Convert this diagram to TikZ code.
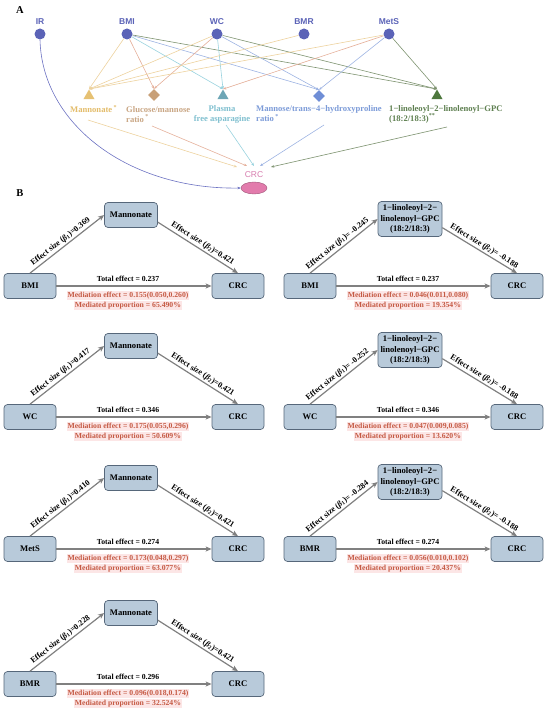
\documentclass[tikz,border=0pt]{standalone}
\usepackage{fontspec}
\setmainfont{Liberation Serif}
\setsansfont{Liberation Sans}
\usetikzlibrary{shapes.geometric,arrows.meta}
\definecolor{expocol}{HTML}{5B63B7}
\definecolor{mA}{HTML}{E6C173}
\definecolor{mAt}{HTML}{E3BC6A}
\definecolor{mAe}{HTML}{EDD29E}
\definecolor{mB}{HTML}{C8A078}
\definecolor{mBt}{HTML}{C9A684}
\definecolor{mBe}{HTML}{E4AE98}
\definecolor{mC}{HTML}{6DA6B6}
\definecolor{mCt}{HTML}{7FBFCF}
\definecolor{mCe}{HTML}{98D2DE}
\definecolor{mD}{HTML}{6F8ED6}
\definecolor{mDt}{HTML}{7C9BD8}
\definecolor{mDe}{HTML}{9DB3E2}
\definecolor{mE}{HTML}{4D773D}
\definecolor{mEt}{HTML}{5E7F50}
\definecolor{mEe}{HTML}{7E9370}
\definecolor{crcf}{HTML}{E27BAC}
\definecolor{crct}{HTML}{D77DAE}
\definecolor{irc}{HTML}{6C72C2}
\definecolor{boxf}{HTML}{B8CADA}
\definecolor{boxd}{HTML}{56677A}
\definecolor{agrey}{HTML}{808080}
\definecolor{redt}{HTML}{C55A44}
\definecolor{pinkbg}{HTML}{FCE6E6}
\tikzset{
  expo/.style={circle, fill=expocol, minimum size=11pt, inner sep=0pt},
  expolab/.style={font=\sffamily\bfseries\fontsize{8.5}{9}\selectfont, text=expocol, inner sep=0pt},
  tri/.style={regular polygon, regular polygon sides=3, minimum size=13pt, inner sep=0pt},
  dia/.style={diamond, minimum size=12pt, inner sep=0pt},
  medlab/.style={font=\bfseries\fontsize{8.6}{10}\selectfont, align=left, inner sep=0pt},
  aedge/.style={-{Stealth[length=3.2pt,width=2.6pt]}, line width=0.6pt},
  panlab/.style={font=\bfseries\fontsize{10.5}{12}\selectfont, inner sep=0pt},
  bbox/.style={rounded corners=3.5pt, draw=boxd, fill=boxf, line width=0.7pt,
    font=\bfseries\fontsize{8.6}{10.5}\selectfont, align=center,
    minimum width=52pt, minimum height=25pt, inner sep=1pt},
  barrow/.style={draw=agrey, line width=1.2pt, -{Stealth[length=6pt,width=5pt,inset=1.5pt]}},
  elab/.style={font=\bfseries\fontsize{8.1}{9}\selectfont, inner sep=1.5pt},
  tlab/.style={font=\bfseries\fontsize{7.7}{9}\selectfont, inner sep=0.5pt},
  rlab/.style={font=\bfseries\fontsize{7.7}{9}\selectfont, text=redt, fill=pinkbg, inner sep=0.8pt},
}
\newcommand{\mcommon}[6]{%
  \draw[barrow] (#6e.north) -- node[elab, above, sloped, pos=0.46]{Effect size (\textit{β}\textsubscript{1})=#1} (#6m.west);
  \draw[barrow] (#6m.-15) -- node[elab, above, sloped, pos=0.52]{Effect size (\textit{β}\textsubscript{2})=#2} (#6c.north);
  \draw[barrow] (#6e.east) -- (#6c.west);
  \node[tlab] (#6t) at (98,-7) {Total effect = #3};
  \node[rlab] (#6d) at (98,9.5) {Mediation effect = #4};
  \node[rlab] (#6p) at (98,19.5) {Mediated proportion = #5};
}
\newcommand{\mdiagM}[8]{%
  \begin{scope}[shift={#1}]
    \node[bbox] (#8e) at (0,0) {#2};
    \node[bbox, minimum width=53pt] (#8m) at (101,-71) {Mannonate};
    \node[bbox] (#8c) at (208,0) {CRC};
    \mcommon{#3}{#4}{#5}{#6}{#7}{#8}
  \end{scope}}
\newcommand{\mdiagG}[8]{%
  \begin{scope}[shift={#1}]
    \node[bbox] (#8e) at (0,0) {#2};
    \node[bbox, minimum width=64pt, minimum height=35pt] (#8m) at (100,-67) {1−linoleoyl−2−\\linolenoyl−GPC\\(18:2/18:3)};
    \node[bbox] (#8c) at (207,0) {CRC};
    \mcommon{#3}{#4}{#5}{#6}{#7}{#8}
  \end{scope}}
\begin{document}
\begin{tikzpicture}[x=1pt,y=-1pt]
\useasboundingbox (0,0) rectangle (550,714);
% ---------- Panel A ----------
\node[panlab] (pA) at (20,10) {A};
\node[expo] (ir) at (40,34) {};
\node[expo] (bmi) at (127,34) {};
\node[expo] (wc) at (217,34) {};
\node[expo] (bmr) at (304,34) {};
\node[expo] (mets) at (389,34) {};
\node[expolab] (irl) at (40,22) {IR};
\node[expolab] (bmil) at (127,22) {BMI};
\node[expolab] (wcl) at (217,22) {WC};
\node[expolab] (bmrl) at (304,22) {BMR};
\node[expolab] (metsl) at (389,22) {MetS};
% mediators
\node[tri, fill=mA] (m1) at (89,96) {};
\node[dia, fill=mB] (m2) at (154,95) {};
\node[tri, fill=mC] (m3) at (223,96) {};
\node[dia, fill=mD] (m4) at (319,96) {};
\node[tri, fill=mE] (m5) at (437,96) {};
\node[medlab, text=mAt, anchor=west] (m1l) at (70,109) {Mannonate\,\textsuperscript{*}};
\node[medlab, text=mBt, anchor=west] (m2l) at (126,114.5) {Glucose/mannose\\ratio\,\textsuperscript{*}};
\node[medlab, text=mCt, align=center] (m3l) at (222,114) {Plasma\\free asparagine};
\node[medlab, text=mDt, anchor=west] (m4l) at (256,114) {Mannose/trans−4−hydroxyproline\\ratio\,\textsuperscript{*}};
\node[medlab, text=mEt, anchor=west] (m5l) at (389,114) {1−linoleoyl−2−linolenoyl−GPC\\(18:2/18:3)\textsuperscript{**}};
% CRC
\node[ellipse, fill=crcf, draw=crcf!70!black, line width=0.4pt, minimum width=26pt, minimum height=12pt, inner sep=0pt] (crc) at (254,188) {};
\node[font=\sffamily\fontsize{8.5}{9}\selectfont, text=crct, inner sep=0pt] (crcl) at (254,175) {CRC};
% exposure -> mediator edges
\draw[aedge, mAe] (bmi) -- (m1.north);
\draw[aedge, mBe] (bmi) -- (m2.north);
\draw[aedge, mCe] (bmi) -- (m3.north);
\draw[aedge, mDe] (bmi) -- (m4.north);
\draw[aedge, mEe] (bmi) -- (m5.north);
\draw[aedge, mAe] (wc) -- (m1.north);
\draw[aedge, mBe] (wc) -- (m2.north);
\draw[aedge, mCe] (wc) -- (m3.north);
\draw[aedge, mDe] (wc) -- (m4.north);
\draw[aedge, mEe] (wc) -- (m5.north);
\draw[aedge, mAe] (bmr) -- (m1.north);
\draw[aedge, mAe] (mets) -- (m1.north);
\draw[aedge, mBe] (mets) -- (m3.north);
\draw[aedge, mDe] (mets) -- (m4.north);
\draw[aedge, mEe] (mets) -- (m5.north);
% mediator -> CRC edges
\coordinate (s1) at (88,120);
\coordinate (s2) at (152,126);
\coordinate (s3) at (226,125);
\coordinate (s4) at (324,125);
\coordinate (s5) at (447,127);
\coordinate (e1) at (237,167);
\coordinate (e2) at (247,166);
\coordinate (e3) at (254,166);
\coordinate (e4) at (260,166);
\coordinate (e5) at (271,167);
\draw[aedge, mAe] (s1) -- (e1);
\draw[aedge, mBe] (s2) -- (e2);
\draw[aedge, mCe] (s3) -- (e3);
\draw[aedge, mDe] (s4) -- (e4);
\draw[aedge, mEe] (s5) -- (e5);
\draw[aedge, irc] (ir.south) .. controls (42,125) and (130,190) .. (crc.west);
% ---------- Panel B ----------
\node[panlab] (pB) at (20,193) {B};
\mdiagM{(30,286)}{BMI}{0.369}{0.421}{0.237}{0.155(0.050,0.260)}{65.490\%}{la}
\mdiagG{(310,286)}{BMI}{\ -0.245}{\ -0.188}{0.237}{0.046(0.011,0.080)}{19.354\%}{ra}
\mdiagM{(30,417)}{WC}{0.417}{0.421}{0.346}{0.175(0.055,0.296)}{50.609\%}{lb}
\mdiagG{(310,417)}{WC}{\ -0.252}{\ -0.188}{0.346}{0.047(0.009,0.085)}{13.620\%}{rb}
\mdiagM{(30,549)}{MetS}{0.410}{0.421}{0.274}{0.173(0.048,0.297)}{63.077\%}{lc}
\mdiagG{(310,549)}{BMR}{\ -0.284}{\ -0.188}{0.274}{0.056(0.010,0.102)}{20.437\%}{rc}
\mdiagM{(30,684)}{BMR}{0.228}{0.421}{0.296}{0.096(0.018,0.174)}{32.524\%}{ld}
\end{tikzpicture}
\end{document}
